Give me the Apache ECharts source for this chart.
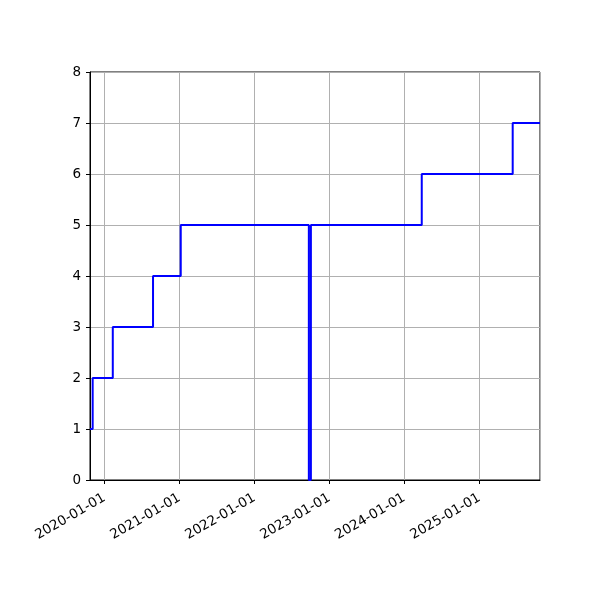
<!DOCTYPE html>
<html>
<head>
<meta charset="utf-8">
<script src="https://cdn.jsdelivr.net/npm/echarts@6/dist/echarts.min.js"></script>
<style>
  html, body { margin: 0; padding: 0; background: #fff; }
  #chart { width: 600px; height: 600px; }
</style>
</head>
<body>
<div id="chart"></div>
<script>
// dates where the count changes, and the count from that date on
const changeDates = [
  '2019-10-23', '2019-11-05', '2020-02-11', '2020-08-25', '2021-01-07',
  '2022-09-23', '2022-10-03', '2024-03-26', '2025-06-12', '2025-10-23'
];
const counts = [1, 2, 3, 4, 5, 0, 5, 6, 7, 7];
const yTicks = [0, 1, 2, 3, 4, 5, 6, 7, 8];

const chart = echarts.init(document.getElementById('chart'), null, { renderer: 'canvas' });

const seriesData = changeDates.map((d, i) => [d, counts[i]]);
const DAY = 24 * 3600 * 1000;

chart.setOption({
  backgroundColor: '#fff',
  animation: false,
  grid: {
    left: 90, right: 60, top: 72, bottom: 120,
    show: true, borderColor: '#000', borderWidth: 1, backgroundColor: 'transparent'
  },
  xAxis: {
    type: 'time',
    min: changeDates[0],
    max: changeDates[changeDates.length - 1],
    minInterval: 360 * DAY,
    axisLine: { show: true, lineStyle: { color: '#000', width: 1 } },
    axisTick: { show: true, length: 4, inside: false, lineStyle: { color: '#000' } },
    minorTick: { show: false },
    splitLine: { show: true, lineStyle: { color: '#b0b0b0', width: 1 } },
    axisLabel: {
      rotate: 30,
      margin: 17,
      color: '#000',
      fontSize: 13.5,
      fontFamily: 'DejaVu Sans',
      showMinLabel: false,
      showMaxLabel: false,
      formatter: '{yyyy}-{MM}-{dd}'
    }
  },
  yAxis: {
    type: 'value',
    min: yTicks[0],
    max: yTicks[yTicks.length - 1],
    interval: 1,
    axisLine: { show: true, lineStyle: { color: '#000', width: 1 } },
    axisTick: { show: true, length: 4, inside: false, lineStyle: { color: '#000' } },
    splitLine: { show: true, lineStyle: { color: '#b0b0b0', width: 1 } },
    axisLabel: { color: '#000', fontSize: 13.5, fontFamily: 'DejaVu Sans', margin: 9 }
  },
  series: [{
    type: 'line',
    step: 'end',
    data: seriesData,
    showSymbol: false,
    lineStyle: { color: '#0000ff', width: 2 },
    clip: true
  }]
});
</script>
</body>
</html>
